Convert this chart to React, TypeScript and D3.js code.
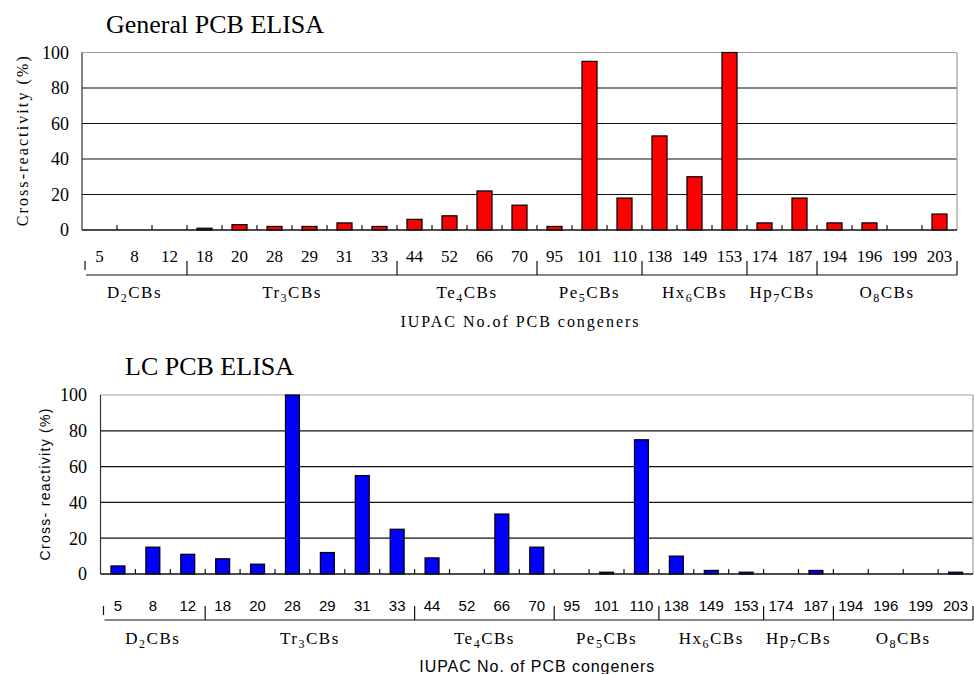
import React from 'react';
import * as d3 from 'd3';

const congeners = ["5", "8", "12", "18", "20", "28", "29", "31", "33", "44", "52", "66", "70", "95", "101", "110", "138", "149", "153", "174", "187", "194", "196", "199", "203"];
const generalValues = [0, 0, 0, 1, 3, 2, 2, 4, 2, 6, 8, 22, 14, 2, 95, 18, 53, 30, 100, 4, 18, 4, 4, 0, 9];
const lcValues = [4.5, 15, 11, 8.5, 5.5, 100, 12, 55, 25, 9, 0, 33.5, 15, 0, 1, 75, 10, 2, 1, 0, 2, 0, 0, 0, 1];
const groupPrefixes = ["D", "Tr", "Te", "Pe", "Hx", "Hp", "O"];
const groupSubs = ["2", "3", "4", "5", "6", "7", "8"];
const groupSizes = [3, 6, 4, 3, 3, 2, 4];
const yTicks = [0, 20, 40, 60, 80, 100];

const SERIF = '"Liberation Serif", "DejaVu Serif", serif';
const SANS = '"Liberation Sans", Arial, sans-serif';

interface PanelProps {
  title: string;
  values: number[];
  color: string;
  x0: number;
  x1: number;
  yTop: number;
  yBottom: number;
  titleX: number;
  titleY: number;
  yLabelRight: number;
  yTitle: string;
  yTitleX: number;
  yTitleFont: string;
  yTitleSize: number;
  yTitleLen: number;
  catFont: string;
  catSize: number;
  catY: number;
  lineY: number;
  groupY: number;
  xTitle: string;
  xTitleFont: string;
  xTitleY: number;
  xTitleLen: number;
  barPad: number;
}

const Panel: React.FC<PanelProps> = (p) => {
  const x = d3.scaleBand<string>().domain(congeners).range([p.x0, p.x1])
    .paddingInner(p.barPad).paddingOuter(p.barPad / 2);
  const y = d3.scaleLinear().domain([0, 100]).range([p.yBottom, p.yTop]);
  const step = x.step();
  const catStart = (i: number) => p.x0 + i * step;

  // group boundaries (cumulative category index)
  const bounds = [0, ...d3.cumsum(groupSizes)];

  return (
    <g>
      <text x={p.titleX} y={p.titleY} fontFamily={SERIF} fontSize={26}>{p.title}</text>

      {/* grid */}
      {yTicks.filter((t) => t > 0 && t < 100).map((t) => (
        <line key={t} x1={p.x0} x2={p.x1} y1={y(t)} y2={y(t)} stroke="#111" strokeWidth={1.2} />
      ))}
      <line x1={p.x0} x2={p.x1} y1={y(100)} y2={y(100)} stroke="#a0a0a0" strokeWidth={1.2} />
      <line x1={p.x1} x2={p.x1} y1={y(100)} y2={y(0)} stroke="#a0a0a0" strokeWidth={1.2} />
      <line x1={p.x0} x2={p.x0} y1={y(100)} y2={y(0)} stroke="#333" strokeWidth={1.2} />

      {/* y labels */}
      {yTicks.map((t) => (
        <text key={t} x={p.yLabelRight} y={y(t)} dy="0.36em" textAnchor="end" fontFamily={SERIF} fontSize={18}>{t}</text>
      ))}
      <text transform={`translate(${p.yTitleX},${(p.yTop + p.yBottom) / 2}) rotate(-90)`} textAnchor="middle"
        dy="0.35em" fontFamily={p.yTitleFont} fontSize={p.yTitleSize} textLength={p.yTitleLen} lengthAdjust="spacing">{p.yTitle}</text>

      {/* bars */}
      {p.values.map((v, i) => (
        <rect key={congeners[i]} x={x(congeners[i])!} width={x.bandwidth()} y={y(v)} height={y(0) - y(v)}
          fill={p.color} stroke="#000" strokeWidth={1.2} />
      ))}

      {/* baseline and inside ticks */}
      <line x1={p.x0} x2={p.x1} y1={y(0)} y2={y(0)} stroke="#111" strokeWidth={1.5} />
      {congeners.slice(1).map((c, i) => (
        <line key={c} x1={catStart(i + 1)} x2={catStart(i + 1)} y1={y(0)} y2={y(0) - 5} stroke="#111" strokeWidth={1.2} />
      ))}

      {/* category labels */}
      {congeners.map((c) => (
        <text key={c} x={x(c)! + x.bandwidth() / 2} y={p.catY} textAnchor="middle" fontFamily={p.catFont} fontSize={p.catSize}>{c}</text>
      ))}

      {/* group axis */}
      <line x1={p.x0 + 4} x2={p.x1} y1={p.lineY} y2={p.lineY} stroke="#111" strokeWidth={1.2} />
      {bounds.map((b, i) => (
        <line key={i} x1={catStart(b) + (i === 0 ? 3 : 0)} x2={catStart(b) + (i === 0 ? 3 : 0)}
          y1={p.lineY - 14} y2={i === 0 ? p.lineY - 5 : p.lineY} stroke="#111" strokeWidth={1.2} />
      ))}
      {groupPrefixes.map((g, i) => (
        <text key={g} x={(catStart(bounds[i]) + catStart(bounds[i + 1])) / 2} y={p.groupY} textAnchor="middle"
          fontFamily={SERIF} fontSize={17} letterSpacing={1.5}>
          {g}<tspan dy={4} fontSize={12}>{groupSubs[i]}</tspan><tspan dy={-4}>CBs</tspan>
        </text>
      ))}
      <text x={(p.x0 + p.x1) / 2} y={p.xTitleY} textAnchor="middle" fontFamily={p.xTitleFont} fontSize={16}
        textLength={p.xTitleLen} lengthAdjust="spacing">{p.xTitle}</text>
    </g>
  );
};

const App: React.FC = () => (
  <svg width={974} height={674} style={{ position: 'absolute', left: 0, top: 0, background: '#fff' }}>
    <rect width={974} height={674} fill="#fff" />
    <Panel title="General PCB ELISA" values={generalValues} color="#ff0000"
      x0={82} x1={957} yTop={52.5} yBottom={230} titleX={106} titleY={33}
      yLabelRight={69} yTitle="Cross-reactivity (%)" yTitleX={22} yTitleFont={SERIF} yTitleSize={16} yTitleLen={170}
      catFont={SERIF} catSize={17} catY={262} lineY={275} groupY={298}
      xTitle="IUPAC No.of PCB congeners" xTitleFont={SERIF} xTitleY={327} xTitleLen={238} barPad={0.57} />
    <Panel title="LC PCB ELISA" values={lcValues} color="#0000ff"
      x0={100.5} x1={973} yTop={395} yBottom={574} titleX={125} titleY={375}
      yLabelRight={87} yTitle="Cross- reactivity (%)" yTitleX={45} yTitleFont={SANS} yTitleSize={14} yTitleLen={152}
      catFont={SANS} catSize={15} catY={611} lineY={620} groupY={644}
      xTitle="IUPAC No. of PCB congeners" xTitleFont={SANS} xTitleY={672} xTitleLen={235} barPad={0.6} />
  </svg>
);

export default App;
